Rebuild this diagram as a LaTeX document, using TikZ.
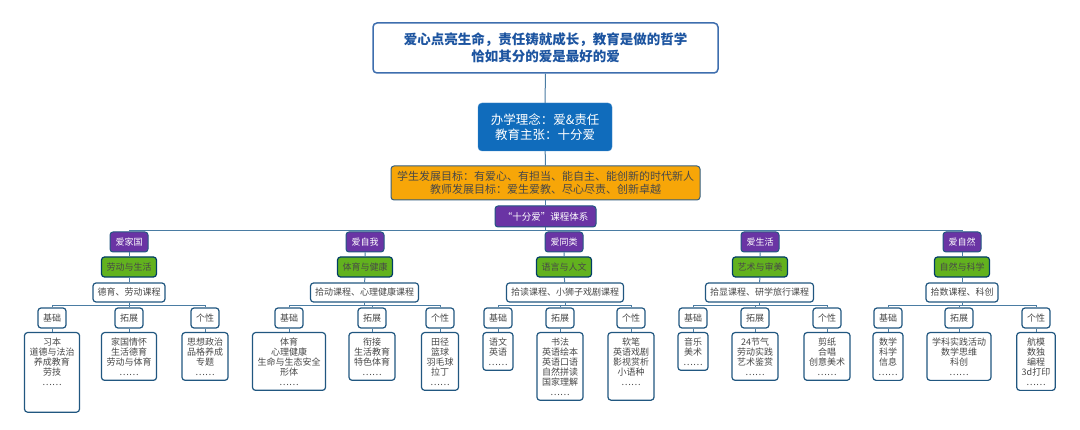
\documentclass[tikz,border=0pt]{standalone}
\usepackage{fontspec}
\setmainfont{Noto Sans CJK SC}
\usepackage{tikz}
\definecolor{LineColor} {RGB}{74,124,163}
\definecolor{EdgeColor} {RGB}{33,87,128}
\definecolor{TitleColor}{RGB}{28,84,160}
\definecolor{IdeaColor} {RGB}{16,108,188}
\definecolor{GoalColor} {RGB}{247,166,8}
\definecolor{LoveColor} {RGB}{106,52,164}
\definecolor{AreaColor} {RGB}{98,178,30}
\definecolor{TextGray}  {RGB}{72,72,72}

\begin{document}
\begin{tikzpicture}[x=1pt,y=-1pt,
  conn/.style={draw=LineColor,line width=1pt},
  box/.style={draw=EdgeColor,line width=1.2pt,rounded corners=3pt,fill=white,
    text=TextGray,font=\fontsize{9}{10}\selectfont,align=center,
    inner xsep=5pt,inner ysep=5pt},
  tag/.style={box,minimum height=20pt,minimum width=28pt,inner ysep=2pt},
  course/.style={box,minimum height=19pt,inner xsep=4.5pt,inner ysep=2pt},
  cont/.style={box,anchor=north,minimum width=30pt},
  love/.style={draw=EdgeColor,line width=1pt,rounded corners=3pt,fill=LoveColor,
    text=white,font=\fontsize{9}{10}\selectfont,minimum width=38pt,minimum height=20pt,inner sep=2pt},
  area/.style={draw=black!60!green!60!blue,line width=1.2pt,rounded corners=3pt,fill=AreaColor,
    text=TextGray,font=\fontsize{9}{10}\selectfont,minimum width=55pt,minimum height=20pt,inner sep=2pt}]
\fill[white] (0,0) rectangle (1080,430);

% top of the tree
\node[draw=TitleColor!85,line width=1.5pt,rounded corners=4pt,minimum width=345pt,minimum height=50pt,
  align=center,text=TitleColor,font=\bfseries\fontsize{13.5}{17}\selectfont]
  (motto) at (545.5,48) {爱心点亮生命，责任铸就成长，教育是做的哲学\\恰如其分的爱是最好的爱};
\node[fill=IdeaColor,draw=IdeaColor!80!white,rounded corners=4pt,minimum width=134pt,minimum height=48pt,
  align=center,text=white,font=\fontsize{12.5}{15}\selectfont]
  (idea) at (545,127) {办学理念：爱\&责任\\教育主张：十分爱};
\node[fill=GoalColor,draw=EdgeColor!80!gray,line width=1pt,rounded corners=3pt,minimum width=309pt,
  minimum height=34pt,inner sep=2pt,align=center,text=TextGray,font=\fontsize{11}{13}\selectfont]
  (goal) at (545.5,183) {学生发展目标：有爱心、有担当、能自主、能创新的时代新人\\教师发展目标：爱生爱教、尽心尽责、创新卓越};
\node[love,minimum width=101pt,minimum height=21pt,font=\fontsize{9.5}{10}\selectfont]
  (system) at (545.5,216.5) {“十分爱”课程体系};
\draw[conn] (motto) -- (idea);
\draw[conn] (idea) -- (goal);
\draw[conn] (goal) -- (system);

% five branches
\node[love] (l1) at (129,242) {爱家国};
\node[love] (l2) at (365,242) {爱自我};
\node[love] (l3) at (564,242) {爱同类};
\node[love] (l4) at (760,242) {爱生活};
\node[love] (l5) at (962,242) {爱自然};
\draw[conn] (system.south) -- ++(0,3) -| (l1.north);
\draw[conn] (system.south) -- ++(0,3) -| (l2.north);
\draw[conn] (system.south) -- ++(0,3) -| (l3.north);
\draw[conn] (system.south) -- ++(0,3) -| (l4.north);
\draw[conn] (system.south) -- ++(0,3) -| (l5.north);

\node[area] (a1) at (129,267) {劳动与生活};
\node[area] (a2) at (365,267) {体育与健康};
\node[area] (a3) at (564,267) {语言与人文};
\node[area] (a4) at (760,267) {艺术与审美};
\node[area] (a5) at (962,267) {自然与科学};

\node[course] (c1) at (129,292.5) {德育、劳动课程};
\node[course] (c2) at (364.5,292.5) {拾动课程、心理健康课程};
\node[course] (c3) at (565,292.5) {拾读课程、小狮子戏剧课程};
\node[course] (c4) at (759.5,292.5) {拾显课程、研学旅行课程};
\node[course] (c5) at (962,292.5) {拾数课程、科创};

\draw[conn] (l1) -- (a1) -- (c1);
\draw[conn] (l2) -- (a2) -- (c2);
\draw[conn] (l3) -- (a3) -- (c3);
\draw[conn] (l4) -- (a4) -- (c4);
\draw[conn] (l5) -- (a5) -- (c5);

% 基础 / 拓展 / 个性
\node[tag] (b1) at (52,318) {基础};
\node[tag] (t1) at (129,318) {拓展};
\node[tag] (g1) at (205,318) {个性};
\node[tag] (b2) at (289,318) {基础};
\node[tag] (t2) at (372,318) {拓展};
\node[tag] (g2) at (440,318) {个性};
\node[tag] (b3) at (498,318) {基础};
\node[tag] (t3) at (560,318) {拓展};
\node[tag] (g3) at (631,318) {个性};
\node[tag] (b4) at (693,318) {基础};
\node[tag] (t4) at (755,318) {拓展};
\node[tag] (g4) at (827,318) {个性};
\node[tag] (b5) at (888,318) {基础};
\node[tag] (t5) at (959,318) {拓展};
\node[tag] (g5) at (1036,318) {个性};

\draw[conn] (c1.south) -- ++(0,2.5) -| (b1.north);
\draw[conn] (c1.south) -- ++(0,2.5) -| (t1.north);
\draw[conn] (c1.south) -- ++(0,2.5) -| (g1.north);
\draw[conn] (c2.south) -- ++(0,2.5) -| (b2.north);
\draw[conn] (c2.south) -- ++(0,2.5) -| (t2.north);
\draw[conn] (c2.south) -- ++(0,2.5) -| (g2.north);
\draw[conn] (c3.south) -- ++(0,2.5) -| (b3.north);
\draw[conn] (c3.south) -- ++(0,2.5) -| (t3.north);
\draw[conn] (c3.south) -- ++(0,2.5) -| (g3.north);
\draw[conn] (c4.south) -- ++(0,2.5) -| (b4.north);
\draw[conn] (c4.south) -- ++(0,2.5) -| (t4.north);
\draw[conn] (c4.south) -- ++(0,2.5) -| (g4.north);
\draw[conn] (c5.south) -- ++(0,2.5) -| (b5.north);
\draw[conn] (c5.south) -- ++(0,2.5) -| (t5.north);
\draw[conn] (c5.south) -- ++(0,2.5) -| (g5.north);

% course lists
\node[cont] (bb1) at (52,332) {习本\\道德与法治\\养成教育\\劳技\\……\\[12pt]\mbox{}};
\node[cont] (tt1) at (129,332) {家国情怀\\生活德育\\劳动与体育\\……};
\node[cont] (gg1) at (205,332) {思想政治\\品格养成\\专题\\……};
\node[cont] (bb2) at (289,332) {体育\\心理健康\\生命与生态安全\\形体\\……};
\node[cont] (tt2) at (372,332) {衔接\\生活教育\\特色体育\\……};
\node[cont] (gg2) at (440,332) {田径\\篮球\\羽毛球\\拉丁\\……};
\node[cont] (bb3) at (498,332) {语文\\英语\\……};
\node[cont] (tt3) at (560,332) {书法\\英语绘本\\英语口语\\自然拼读\\国家理解\\……};
\node[cont] (gg3) at (631,332) {软笔\\英语戏剧\\影视赏析\\小语种\\……\\[0pt]\mbox{}};
\node[cont] (bb4) at (693,332) {音乐\\美术\\……};
\node[cont] (tt4) at (755,332) {24节气\\劳动实践\\艺术鉴赏\\……};
\node[cont] (gg4) at (827,332) {剪纸\\合唱\\创意美术\\……};
\node[cont] (bb5) at (888,332) {数学\\科学\\信息\\……};
\node[cont] (tt5) at (959,332) {学科实践活动\\数学思维\\科创\\……};
\node[cont] (gg5) at (1036,332) {航模\\数独\\编程\\3d打印\\……};

\draw[conn] (b1) -- (bb1); \draw[conn] (t1) -- (tt1); \draw[conn] (g1) -- (gg1);
\draw[conn] (b2) -- (bb2); \draw[conn] (t2) -- (tt2); \draw[conn] (g2) -- (gg2);
\draw[conn] (b3) -- (bb3); \draw[conn] (t3) -- (tt3); \draw[conn] (g3) -- (gg3);
\draw[conn] (b4) -- (bb4); \draw[conn] (t4) -- (tt4); \draw[conn] (g4) -- (gg4);
\draw[conn] (b5) -- (bb5); \draw[conn] (t5) -- (tt5); \draw[conn] (g5) -- (gg5);
\end{tikzpicture}
\end{document}
